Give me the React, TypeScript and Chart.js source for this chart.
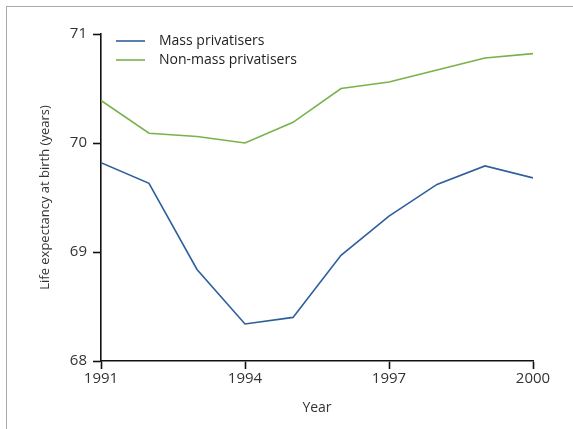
import React, { useEffect, useRef } from "react";
import { Chart, registerables } from "chart.js";

Chart.register(...registerables);

const years = [1991, 1992, 1993, 1994, 1995, 1996, 1997, 1998, 1999, 2000];
const massPrivatisers = [69.82, 69.63, 68.84, 68.34, 68.4, 68.97, 69.33, 69.62, 69.79, 69.68];
const nonMassPrivatisers = [70.39, 70.09, 70.06, 70.0, 70.19, 70.5, 70.56, 70.67, 70.78, 70.82];
const seriesLabels = ["Mass privatisers", "Non-mass privatisers"];
const seriesColors = ["#2e5f9c", "#78b24a"];
const yTitle = "Life expectancy at birth (years)";
const xTitle = "Year";

const FONT = "'Open Sans', sans-serif";

const legendPlugin = {
  id: "customLegend",
  afterDraw(chart: any) {
    const ctx = chart.ctx;
    ctx.save();
    chart.data.datasets.forEach((ds: any, i: number) => {
      const y = 41 + i * 19;
      ctx.strokeStyle = ds.borderColor;
      ctx.lineWidth = 1.6;
      ctx.beginPath();
      ctx.moveTo(116, y);
      ctx.lineTo(145, y);
      ctx.stroke();
      ctx.fillStyle = "#222";
      ctx.font = `14px ${FONT}`;
      ctx.textBaseline = "middle";
      ctx.textAlign = "left";
      ctx.fillText(ds.label, 159, y);
    });
    ctx.restore();
  },
};

export default function App() {
  const ref = useRef<HTMLCanvasElement>(null);
  useEffect(() => {
    if (!ref.current) return;
    const chart = new Chart(ref.current, {
      type: "line",
      data: {
        datasets: [
          {
            label: seriesLabels[0],
            data: years.map((x, i) => ({ x, y: massPrivatisers[i] })),
            borderColor: seriesColors[0],
            borderWidth: 1.6,
            pointRadius: 0,
            fill: false,
            tension: 0,
          },
          {
            label: seriesLabels[1],
            data: years.map((x, i) => ({ x, y: nonMassPrivatisers[i] })),
            borderColor: seriesColors[1],
            borderWidth: 1.6,
            pointRadius: 0,
            fill: false,
            tension: 0,
          },
        ],
      },
      options: {
        animation: false,
        responsive: false,
        layout: { padding: { left: 0, top: 34, right: 40, bottom: 0 } },
        plugins: { legend: { display: false }, tooltip: { enabled: false } },
        scales: {
          x: {
            type: "linear",
            min: 1991,
            max: 2000,
            afterFit: (s: any) => {
              s.height = 68;
            },
            border: { display: true, color: "#111", width: 1.6 },
            grid: { drawOnChartArea: false, drawTicks: true, tickLength: 8, tickColor: "#111", tickWidth: 1.6 },
            ticks: {
              stepSize: 3,
              color: "#333",
              font: { family: FONT, size: 15 },
              padding: 1,
              maxRotation: 0,
              callback: (v: any) => String(v),
            },
            title: {
              display: true,
              text: xTitle,
              color: "#333",
              font: { family: FONT, size: 14 },
              padding: { top: 0, bottom: 13 },
            },
          },
          y: {
            min: 68,
            max: 71,
            afterFit: (s: any) => {
              s.width = 101;
            },
            border: { display: true, color: "#111", width: 1.6 },
            grid: { drawOnChartArea: false, drawTicks: true, tickLength: 8, tickColor: "#111", tickWidth: 1.6 },
            ticks: {
              stepSize: 1,
              color: "#333",
              font: { family: FONT, size: 15 },
              padding: 6,
            },
            title: {
              display: true,
              text: yTitle,
              color: "#333",
              font: { family: FONT, size: 13 },
              padding: { top: 37, bottom: 0 },
            },
          },
        },
      },
      plugins: [legendPlugin],
    });
    return () => chart.destroy();
  }, []);

  return (
    <div style={{ position: "absolute", left: 0, top: 0, width: 573, height: 429, background: "#fff", overflow: "hidden" }}>
      <div
        style={{
          position: "absolute",
          left: 6,
          top: 6,
          right: -2,
          bottom: -2,
          borderTop: "1px solid #a8a8a8",
          borderLeft: "1px solid #a8a8a8",
        }}
      />
      <canvas ref={ref} width={573} height={429} style={{ position: "absolute", left: 0, top: 0 }} />
    </div>
  );
}
